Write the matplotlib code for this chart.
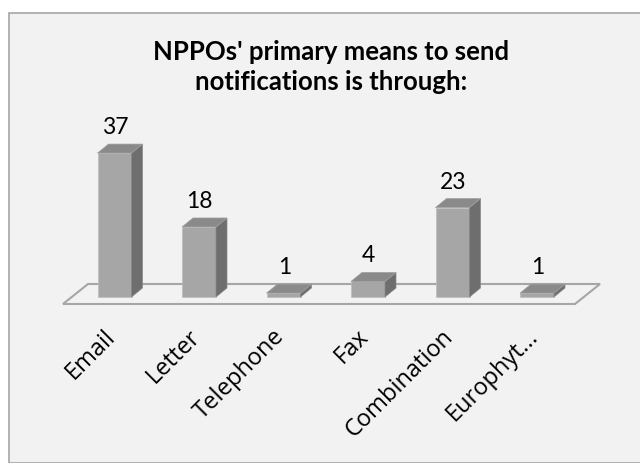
import matplotlib
matplotlib.use('Agg')
import matplotlib.pyplot as plt
from matplotlib.patches import Polygon, Rectangle

categories = ['Email', 'Letter', 'Telephone', 'Fax', 'Combination', 'Europhyt...']
counts = [37, 18, 1, 4, 23, 1]
title_lines = ["NPPOs' primary means to send", "notifications is through:"]

plt.rcParams['font.family'] = ['Lato', 'DejaVu Sans']

W, H = 640, 463
fig = plt.figure(figsize=(W / 100, H / 100), dpi=100)
fig.patch.set_facecolor('white')

# chart area frame (right / bottom edges run off the picture)
frame = Rectangle((9 / W, 0), 1.0, (H - 13) / H, transform=fig.transFigure,
                  facecolor='#f2f2f2', edgecolor='#a6a6a6', lw=1.2, zorder=-5)
fig.patches.append(frame)

# axes: x = category index, y = count
px_per_cat = 84.5
px_per_val = 3.89
x0_px, y0_px = 114.5, 297        # pixel of category 0 centre / value 0
left_px, right_px = 63, 600
bot_px, top_px = 304, 110
xlim = ((left_px - x0_px) / px_per_cat, (right_px - x0_px) / px_per_cat)
ylim = ((y0_px - bot_px) / px_per_val, (y0_px - top_px) / px_per_val)
ax = fig.add_axes([left_px / W, (H - bot_px) / H,
                   (right_px - left_px) / W, (bot_px - top_px) / H])
ax.set_xlim(*xlim)
ax.set_ylim(*ylim)
ax.axis('off')
ax.set_zorder(2)

dx = 11 / px_per_cat    # depth offset
dy = 9 / px_per_val
bw = 34 / px_per_cat
fl = 25 / px_per_cat    # floor slant

# floor
y_front = ylim[0]
y_back = y_front + 20 / px_per_val
floor = Polygon([(xlim[0], y_front), (xlim[1] - fl, y_front),
                 (xlim[1], y_back), (xlim[0] + fl, y_back)],
                closed=True, facecolor='#f2f2f2', edgecolor='#a6a6a6', lw=1.5,
                zorder=1, clip_on=False)
ax.add_patch(floor)

for i, v in enumerate(counts):
    xl, xr = i - bw / 2, i + bw / 2
    front = Polygon([(xl, 0), (xr, 0), (xr, v), (xl, v)], closed=True,
                    facecolor='#a6a6a6', edgecolor='#bdbdbd', lw=0.5, zorder=3)
    side = Polygon([(xr, 0), (xr + dx, dy), (xr + dx, v + dy), (xr, v)], closed=True,
                   facecolor='#6e6e6e', edgecolor='#888888', lw=0.5, zorder=3)
    top = Polygon([(xl, v), (xr, v), (xr + dx, v + dy), (xl + dx, v + dy)], closed=True,
                  facecolor='#8a8a8a', edgecolor='#a0a0a0', lw=0.5, zorder=3)
    for p in (front, side, top):
        ax.add_patch(p)
    ax.text(i + 0.01, v + dy + 10 / px_per_val, str(v), ha='center', va='baseline',
            fontsize=16.5, color='black', zorder=4, clip_on=False)
    ax.text(i - 0.03, -36 / px_per_val, categories[i], rotation=45,
            rotation_mode='anchor', ha='right', va='center', fontsize=17,
            family=['Open Sans', 'DejaVu Sans'], color='black',
            clip_on=False, zorder=4)

fig.text(331 / W, 1 - 60 / H, title_lines[0], ha='center', va='baseline',
         fontsize=18.5, fontweight='bold', color='black')
fig.text(331 / W, 1 - 90 / H, title_lines[1], ha='center', va='baseline',
         fontsize=18.5, fontweight='bold', color='black')

fig.savefig('out.png', dpi=100, facecolor='white')
